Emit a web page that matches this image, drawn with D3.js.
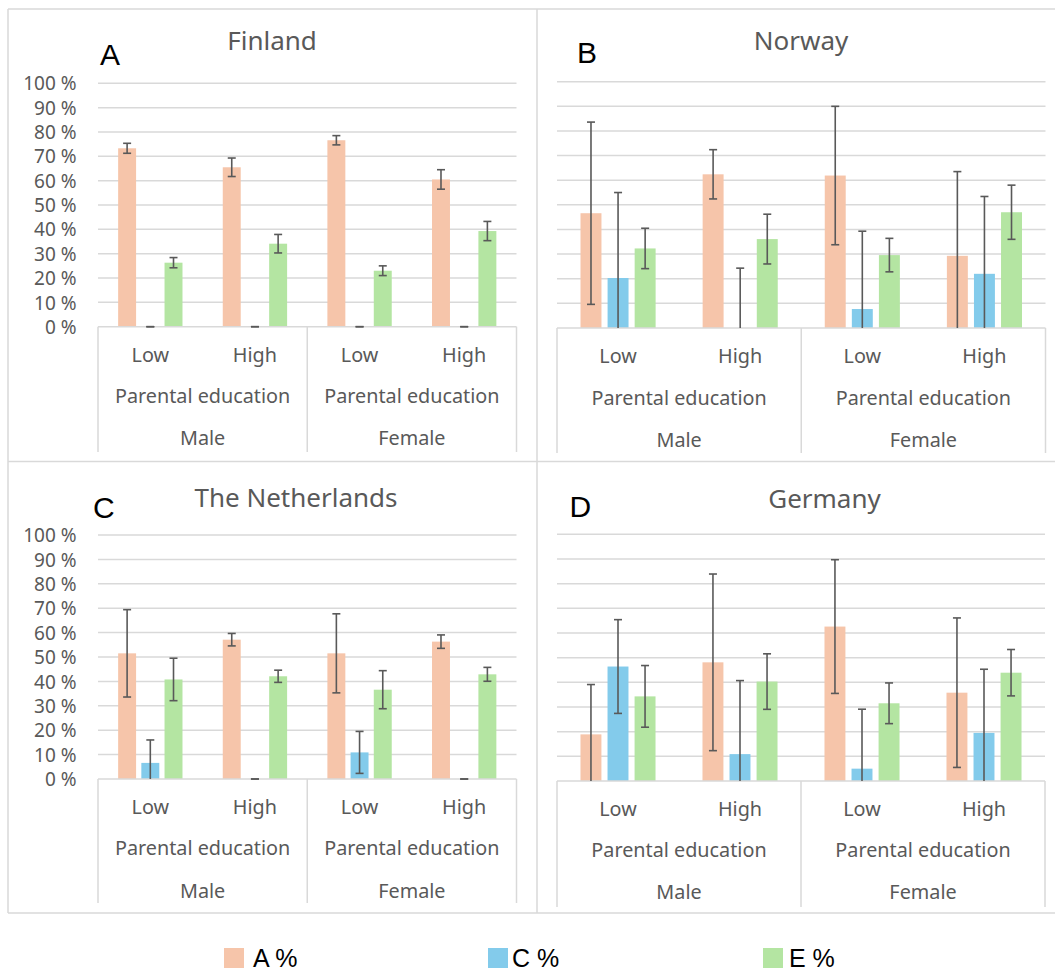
<!DOCTYPE html>
<html>
<head>
<meta charset="utf-8">
<script src="https://cdn.jsdelivr.net/npm/d3@7/dist/d3.min.js"></script>
<style>
  html, body { margin: 0; padding: 0; background: #fff; }
  svg { display: block; }
</style>
</head>
<body>
<svg id="chart" width="1055" height="972"></svg>
<script>
// ---- Data ----
const countries = ["Finland", "Norway", "The Netherlands", "Germany"];
const panelLetters = ["A", "B", "C", "D"];
const genders = ["Male", "Female"];
const educationLevels = ["Low", "High"];
const groupLabel = "Parental education";
const seriesNames = ["A %", "C %", "E %"];
const yTicks = [0, 10, 20, 30, 40, 50, 60, 70, 80, 90, 100];

// values per bar group: Male-Low, Male-High, Female-Low, Female-High
const finlandA = [73.3, 65.5, 76.6, 60.5];
const finlandC = [0, 0, 0, 0];
const finlandE = [26.3, 34.1, 23.0, 39.3];
const finlandAErr = [2.05, 3.8, 1.9, 4.0];
const finlandCErr = [0, 0, 0, 0];
const finlandEErr = [2.1, 3.8, 2.0, 3.95];

const norwayA = [46.6, 62.4, 61.9, 29.3];
const norwayC = [20.3, 0, 7.7, 22.0];
const norwayE = [32.3, 36.1, 29.6, 47.0];
const norwayAErr = [37.0, 10.0, 28.1, 34.2];
const norwayCErr = [34.7, 24.3, 31.6, 31.4];
const norwayEErr = [8.2, 10.1, 6.8, 11.0];

const netherlandsA = [51.5, 57.1, 51.5, 56.3];
const netherlandsC = [6.6, 0, 10.9, 0];
const netherlandsE = [40.8, 42.1, 36.6, 42.9];
const netherlandsAErr = [17.9, 2.55, 16.2, 2.75];
const netherlandsCErr = [9.4, 0, 8.6, 0];
const netherlandsEErr = [8.7, 2.5, 7.8, 2.85];

const germanyA = [18.9, 48.1, 62.6, 35.8];
const germanyC = [46.4, 10.9, 5.0, 19.5];
const germanyE = [34.3, 40.3, 31.5, 43.9];
const germanyAErr = [20.2, 35.8, 27.1, 30.3];
const germanyCErr = [19.0, 29.8, 24.1, 25.8];
const germanyEErr = [12.5, 11.25, 8.25, 9.4];

const valuesByCountry = [
  [finlandA, finlandC, finlandE],
  [norwayA, norwayC, norwayE],
  [netherlandsA, netherlandsC, netherlandsE],
  [germanyA, germanyC, germanyE]
];
const errorsByCountry = [
  [finlandAErr, finlandCErr, finlandEErr],
  [norwayAErr, norwayCErr, norwayEErr],
  [netherlandsAErr, netherlandsCErr, netherlandsEErr],
  [germanyAErr, germanyCErr, germanyEErr]
];

// ---- Styling & layout ----
const colors = ["#F6C5AA", "#83CBEB", "#B4E5A2"];
const gridColor = "#D9D9D9";
const textColor = "#595959";
const errColor = "#595959";
const font = "'Noto Sans', 'Open Sans', sans-serif";

const panels = [
  { x0: 98, x1: 516.5, y0: 326.7, y100: 83.3, boxBottom: 452, showTicks: true,
    titleX: 272, titleY: 50, letterX: 100, letterY: 65, lowY: 362, peY: 403, genY: 445 },
  { x0: 557, x1: 1045.5, y0: 328, y100: 81.7, boxBottom: 453, showTicks: false,
    titleX: 801, titleY: 50, letterX: 577, letterY: 63, lowY: 363, peY: 405, genY: 447 },
  { x0: 98, x1: 516.5, y0: 779, y100: 535, boxBottom: 903, showTicks: true,
    titleX: 296, titleY: 507, letterX: 93, letterY: 518, lowY: 814, peY: 855, genY: 898 },
  { x0: 557, x1: 1045, y0: 781, y100: 534.3, boxBottom: 907, showTicks: false,
    titleX: 824.5, titleY: 508, letterX: 569.5, letterY: 517, lowY: 816, peY: 857, genY: 899 }
];

const svg = d3.select("#chart");

// outer frame and panel dividers
const frame = svg.append("g").attr("stroke", gridColor).attr("stroke-width", 1.5).attr("fill", "none");
frame.append("line").attr("x1", 8).attr("x2", 1055).attr("y1", 9).attr("y2", 9);
frame.append("line").attr("x1", 8).attr("x2", 1055).attr("y1", 461.5).attr("y2", 461.5);
frame.append("line").attr("x1", 8).attr("x2", 1055).attr("y1", 913).attr("y2", 913);
frame.append("line").attr("x1", 8).attr("x2", 8).attr("y1", 9).attr("y2", 913);
frame.append("line").attr("x1", 537).attr("x2", 537).attr("y1", 9).attr("y2", 913);

const categories = [];
genders.forEach(g => educationLevels.forEach(e => categories.push(g + "|" + e)));

panels.forEach((p, pi) => {
  const g = svg.append("g");
  const y = d3.scaleLinear().domain([0, 100]).range([p.y0, p.y100]);
  const x = d3.scaleBand().domain(categories).range([p.x0, p.x1]).paddingInner(0).paddingOuter(0);
  // each cluster of three bars occupies about 61.5% of its category slot
  const clusterW = x.bandwidth() * 0.615;
  const inner = d3.scaleBand().domain(seriesNames).range([0, clusterW]).paddingInner(0.226).paddingOuter(0);
  const clusterOff = (x.bandwidth() - clusterW) / 2;

  // gridlines
  g.append("g").selectAll("line").data(yTicks.filter(t => t > 0)).join("line")
    .attr("x1", p.x0).attr("x2", p.x1)
    .attr("y1", d => y(d)).attr("y2", d => y(d))
    .attr("stroke", gridColor).attr("stroke-width", 1.5);

  // y tick labels
  if (p.showTicks) {
    const axis = d3.axisLeft(y).tickValues(yTicks).tickSize(0).tickPadding(0)
      .tickFormat(d => d + " %");
    const ax = g.append("g").attr("transform", `translate(${p.x0 - 21.5},0)`).call(axis);
    ax.select(".domain").remove();
    ax.selectAll("text").attr("font-family", font).attr("font-size", 19)
      .attr("fill", textColor).attr("dy", "0.35em");
  }

  // bars
  const vals = valuesByCountry[pi];
  const errs = errorsByCountry[pi];
  const barData = [];
  categories.forEach((c, ci) => {
    seriesNames.forEach((s, si) => {
      barData.push({ c, s, si, v: vals[si][ci], e: errs[si][ci] });
    });
  });
  const bx = d => x(d.c) + clusterOff + inner(d.s);
  g.append("g").selectAll("rect").data(barData.filter(d => d.v > 0)).join("rect")
    .attr("x", bx).attr("width", inner.bandwidth())
    .attr("y", d => y(d.v)).attr("height", d => y(0) - y(d.v))
    .attr("fill", d => colors[d.si]);

  // category box (x axis)
  const box = g.append("g").attr("stroke", gridColor).attr("stroke-width", 1.5);
  box.append("line").attr("x1", p.x0).attr("x2", p.x1).attr("y1", p.y0).attr("y2", p.y0);
  const midX = x(categories[2]);
  [p.x0, midX, p.x1].forEach(vx => {
    box.append("line").attr("x1", vx).attr("x2", vx).attr("y1", p.y0).attr("y2", p.boxBottom);
  });

  // error bars
  const capW = 8;
  const eg = g.append("g").attr("stroke", errColor).attr("stroke-width", 1.6);
  barData.forEach(d => {
    const cx = bx(d) + inner.bandwidth() / 2;
    const hi = d.v + d.e;
    const lo = Math.max(0, d.v - d.e);
    eg.append("line").attr("x1", cx).attr("x2", cx).attr("y1", y(hi)).attr("y2", y(lo));
    eg.append("line").attr("x1", cx - capW / 2).attr("x2", cx + capW / 2).attr("y1", y(hi)).attr("y2", y(hi));
    if (d.v - d.e > 0 || d.e === 0) {
      eg.append("line").attr("x1", cx - capW / 2).attr("x2", cx + capW / 2).attr("y1", y(lo)).attr("y2", y(lo));
    }
  });

  // category labels
  const tg = g.append("g").attr("font-family", font).attr("fill", textColor).attr("text-anchor", "middle");
  categories.forEach(c => {
    const lvl = c.split("|")[1];
    tg.append("text").attr("x", x(c) + x.bandwidth() / 2).attr("y", p.lowY)
      .attr("font-size", 19.8).text(lvl);
  });
  genders.forEach((gen, gi) => {
    const left = gi === 0 ? p.x0 : midX;
    const right = gi === 0 ? midX : p.x1;
    tg.append("text").attr("x", (left + right) / 2).attr("y", p.peY)
      .attr("font-size", 19.8).text(groupLabel);
    tg.append("text").attr("x", (left + right) / 2).attr("y", p.genY)
      .attr("font-size", 19.8).text(gen);
  });

  // title and panel letter
  g.append("text").attr("x", p.titleX).attr("y", p.titleY).attr("text-anchor", "middle")
    .attr("font-family", font).attr("font-size", 26).attr("fill", textColor).text(countries[pi]);
  g.append("text").attr("x", p.letterX).attr("y", p.letterY)
    .attr("font-family", "'Liberation Sans', Arial, sans-serif").attr("font-size", 30)
    .attr("fill", "#000").text(panelLetters[pi]);
});

// legend
const legendSwatchX = [224, 488, 763];
const legendTextX = [253, 512, 789];
const lg = svg.append("g");
seriesNames.forEach((s, i) => {
  lg.append("rect").attr("x", legendSwatchX[i]).attr("y", 948).attr("width", 20).attr("height", 20)
    .attr("fill", colors[i]);
  lg.append("text").attr("x", legendTextX[i]).attr("y", 967)
    .attr("font-family", "'Liberation Sans', Arial, sans-serif").attr("font-size", 25)
    .attr("fill", "#000").text(s);
});
</script>
</body>
</html>
